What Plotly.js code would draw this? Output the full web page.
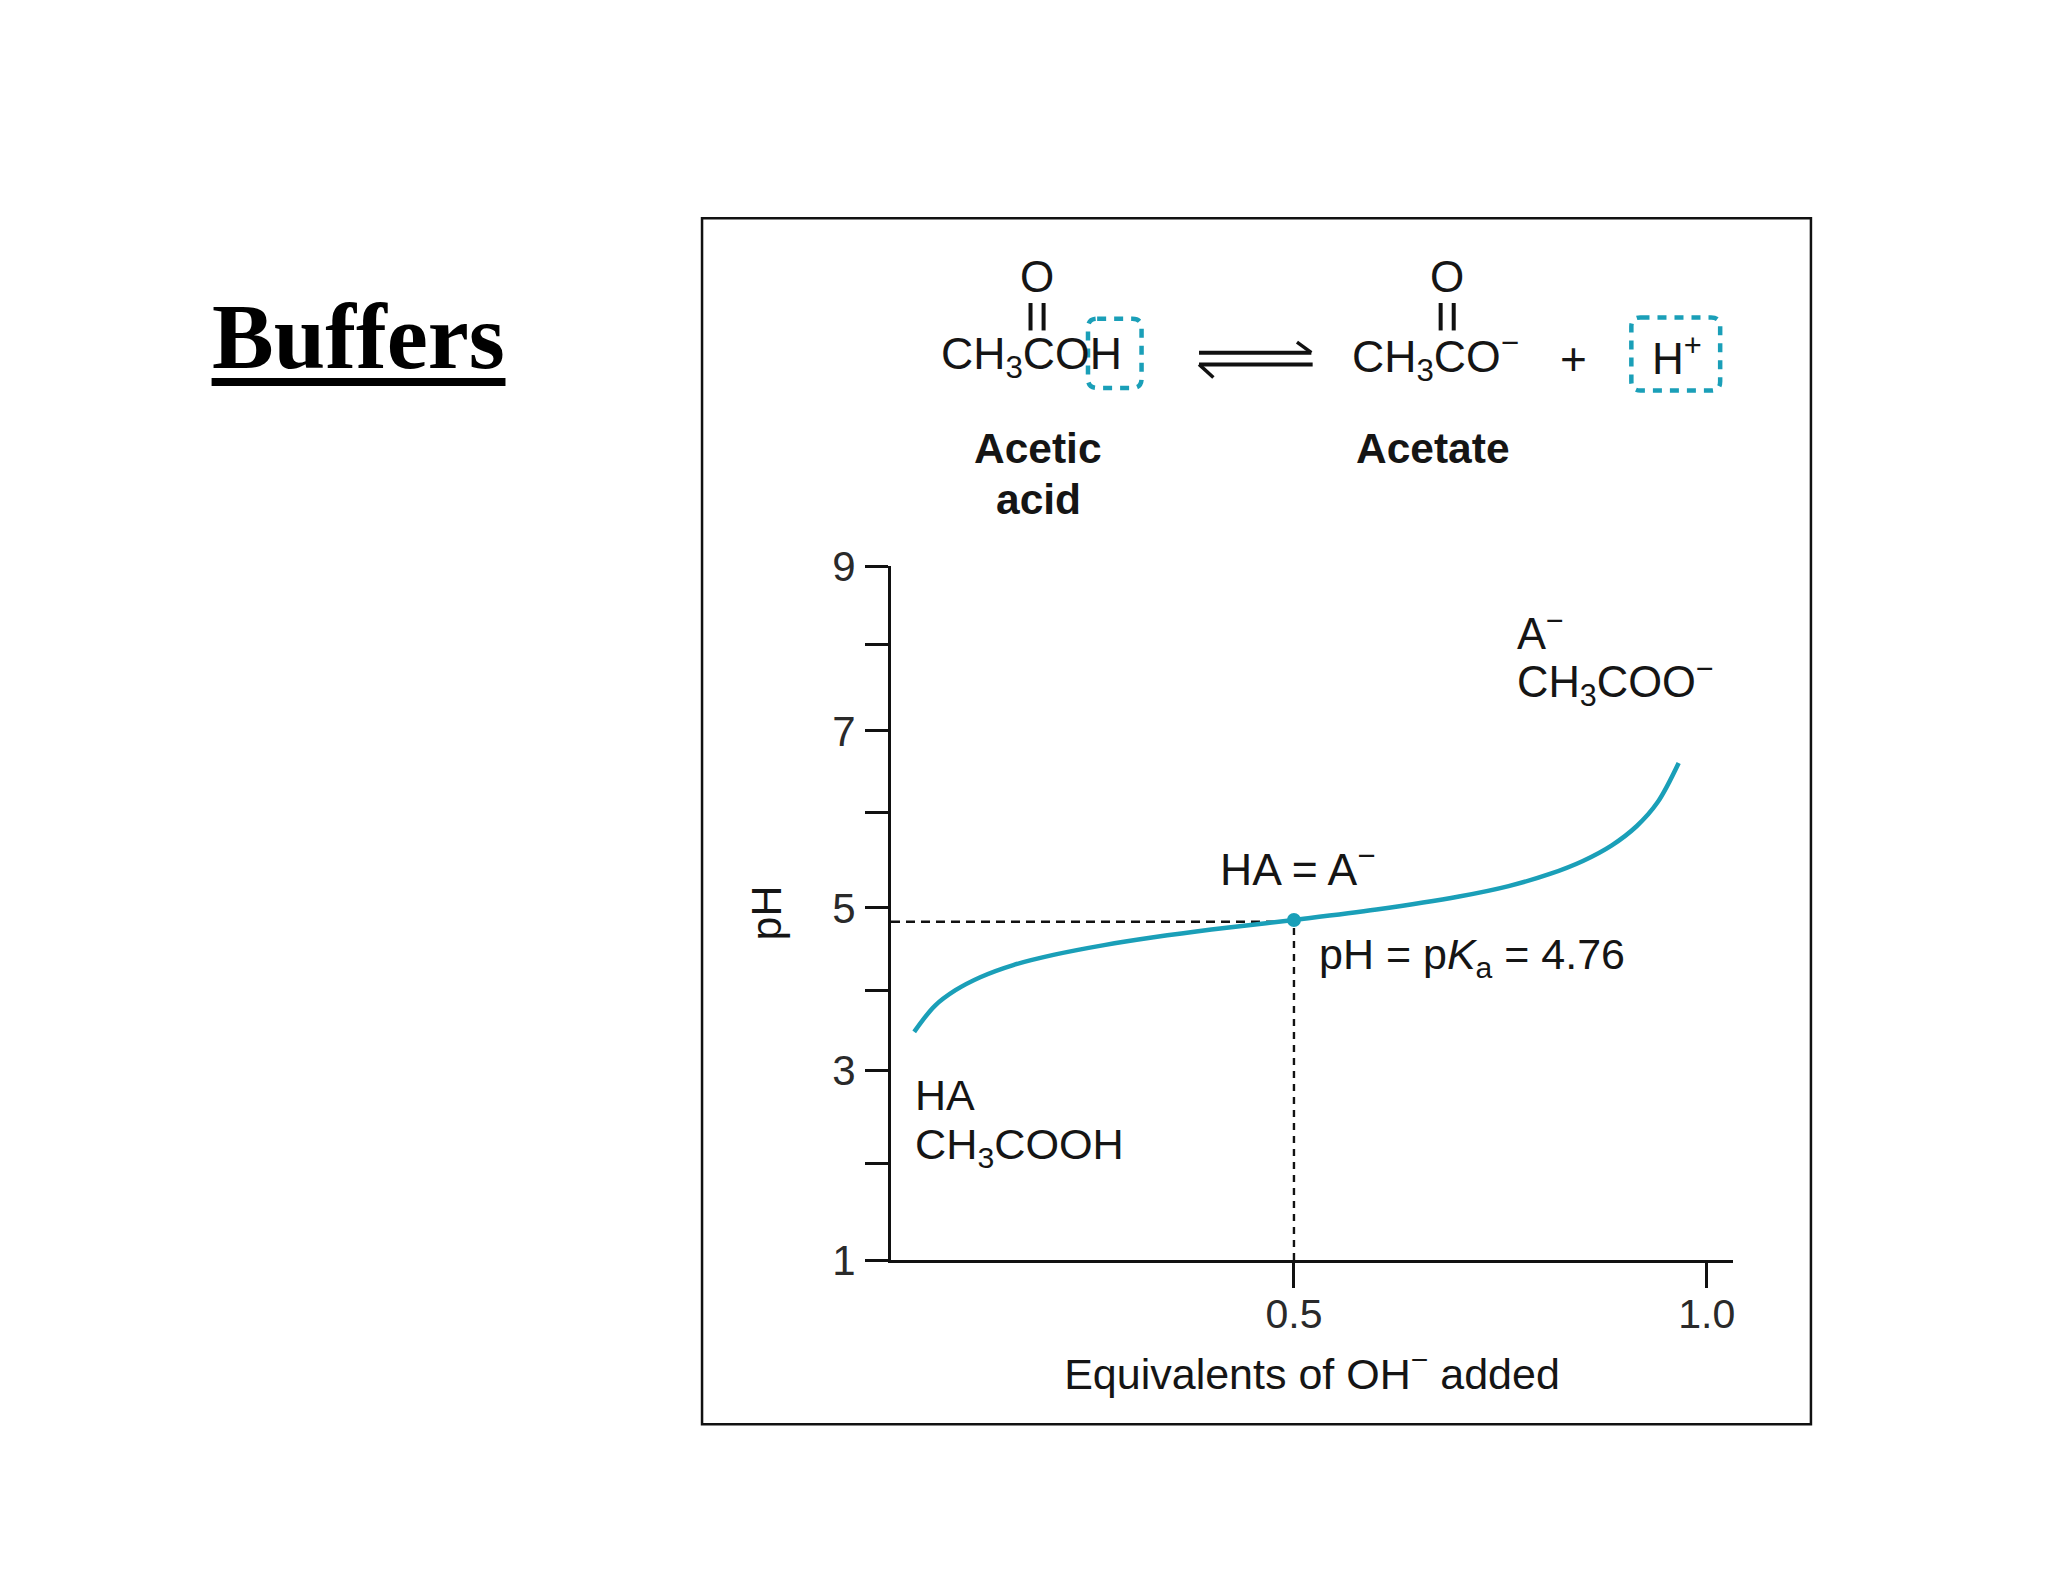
<!DOCTYPE html>
<html><head><meta charset="utf-8">
<script src="https://cdn.plot.ly/plotly-3.0.1.min.js"></script>
<style>html,body{margin:0;padding:0;background:#fff}#c{width:2048px;height:1582px}</style>
</head><body><div id="c"></div>
<script>
// Titration curve
const equivalents = [0.04,0.065,0.09,0.12,0.16,0.21,0.27,0.33,0.40,0.5,0.60,0.70,0.76,0.81,0.85,0.885,0.915,0.94,0.966];
const pHvalues    = [3.63,3.93,4.11,4.26,4.40,4.52,4.63,4.72,4.81,4.92,5.04,5.19,5.31,5.45,5.60,5.78,6.00,6.27,6.73];
const midEquivalents = [0.5];
const midPH = [4.92];
const dashHX = [0.0119,0.5], dashHY = [4.90,4.90];
const dashVX = [0.5,0.5],    dashVY = [1,4.90];
const yTickVals = [9,8.10,7.10,6.155,5.06,4.11,3.19,2.11,1];
const yTickText = ['9','','7','','5','','3','','1'];
const xTickVals = [0.5,1.0];
const xTickText = ['0.5','1.0'];
const teal = '#1a9fb8';
const X = s => s/1568, Y = s => 1 - s/1211.2;

const labels = [
 ['O',794,212,'center',false,44],['O',1108,212,'center',false,44],
 ['CH<sub>3</sub>COH',720,273,'left',false,44.6],
 ['CH<sub>3</sub>CO<sup>−</sup>',1034,273,'left',false,44.6],
 ['+',1205,275,'center',false,46],
 ['H<sup>+</sup>',1284,272,'center',false,44],
 ['Acetic',795,343,'center',true,42.5],['acid',795,382.5,'center',true,42.5],['Acetate',1097,343,'center',true,42.5],
 ['A<sup>−</sup>',1161,483,'left',false,43.5],['CH<sub>3</sub>COO<sup>−</sup>',1161,522,'left',false,43.5],
 ['HA = A<sup>−</sup>',933,663,'left',false,44.5],
 ['pH = p<i>K</i><sub>a</sub> = 4.76',1009,733,'left',false,43],
 ['HA',700,838,'left',false,43],['CH<sub>3</sub>COOH',700,878,'left',false,43.2]
];
const annotations = labels.map(l=>({text:l[4]?'<b>'+l[0]+'</b>':l[0],xref:'paper',yref:'paper',x:X(l[1]),y:Y(l[2]),
  xanchor:l[3],yanchor:'middle',showarrow:false,borderpad:0,
  font:{family:'Liberation Sans',size:l[5],color:'#151515'}}));
annotations.push({text:'<b>Buffers</b>',xref:'paper',yref:'paper',x:X(161.5),y:Y(258),xanchor:'left',yanchor:'middle',showarrow:false,borderpad:0,
  font:{family:'Liberation Serif',size:92.5,color:'#000'}});

const seg=(x0,y0,x1,y1,w,c)=>({type:'line',xref:'paper',yref:'paper',x0:X(x0),y0:Y(y0),x1:X(x1),y1:Y(y1),line:{color:c||'#111',width:w}});
const box=(l,t,r,b)=>{const q=7;const P=(a,c)=>X(a)+','+Y(c);
 return {type:'path',xref:'paper',yref:'paper',line:{color:teal,width:4.5,dash:'9px,8px'},
 path:`M${P(l+q,t)} L${P(r-q,t)} Q${P(r,t)} ${P(r,t+q)} L${P(r,b-q)} Q${P(r,b)} ${P(r-q,b)} L${P(l+q,b)} Q${P(l,b)} ${P(l,b-q)} L${P(l,t+q)} Q${P(l,t)} ${P(l+q,t)} Z`}};
const shapes=[
 {type:'rect',xref:'paper',yref:'paper',x0:X(537.5),x1:X(1386.5),y0:Y(167),y1:Y(1090.5),line:{color:'#111',width:2.5},fillcolor:'rgba(0,0,0,0)'},
 seg(162,292.5,387,292.5,8,'#000'),
 seg(789,232,789,253,4),seg(799,232,799,253,4),
 seg(1103,232,1103,253,4),seg(1113,232,1113,253,4),
 seg(918,270,1004,270,4),seg(1004,270,993,262,3.5),
 seg(918,279,1005,279,4),seg(918,279,929,289,3.5),
 box(833,244,874,297),box(1249,243,1317,299)
];
const dash=(x,y,d)=>({x,y,mode:'lines',line:{color:'#111',width:2.4,dash:d},hoverinfo:'skip',showlegend:false});
const data=[
 dash(dashHX,dashHY,'9px,6px'),dash(dashVX,dashVY,'7px,6px'),
 {x:equivalents,y:pHvalues,mode:'lines',line:{color:teal,width:4.5,shape:'spline',smoothing:1},showlegend:false},
 {x:midEquivalents,y:midPH,mode:'markers',marker:{color:teal,size:14},showlegend:false}
];
const layout={width:2048,height:1582,margin:{l:0,r:0,t:0,b:0},paper_bgcolor:'#fff',plot_bgcolor:'#fff',showlegend:false,
 font:{family:'Liberation Sans',color:'#151515'},
 xaxis:{domain:[891/2048,1733/2048],range:[0.0119,1.0318],showgrid:false,zeroline:false,showline:true,linecolor:'#111',linewidth:2.5,
   tickmode:'array',tickvals:xTickVals,ticktext:xTickText,ticks:'outside',ticklen:25,tickwidth:2.5,tickcolor:'#111',ticklabelstandoff:-9,
   tickfont:{size:41,color:'#2a2a2a'},title:{text:'Equivalents of OH<sup>−</sup> added',font:{size:43,color:'#151515'},standoff:23}},
 yaxis:{domain:[1-1260/1582,1-566/1582],range:[1,9],showgrid:false,zeroline:false,showline:true,linecolor:'#111',linewidth:3,
   tickmode:'array',tickvals:yTickVals,ticktext:yTickText,ticks:'outside',ticklen:23,tickwidth:2.5,tickcolor:'#111',ticklabelstandoff:1,
   tickfont:{size:42,color:'#2a2a2a'},title:{text:'pH',font:{size:43,color:'#151515'},standoff:38}},
 annotations,shapes};
Plotly.newPlot('c',data,layout,{displayModeBar:false,responsive:false});
</script></body></html>
